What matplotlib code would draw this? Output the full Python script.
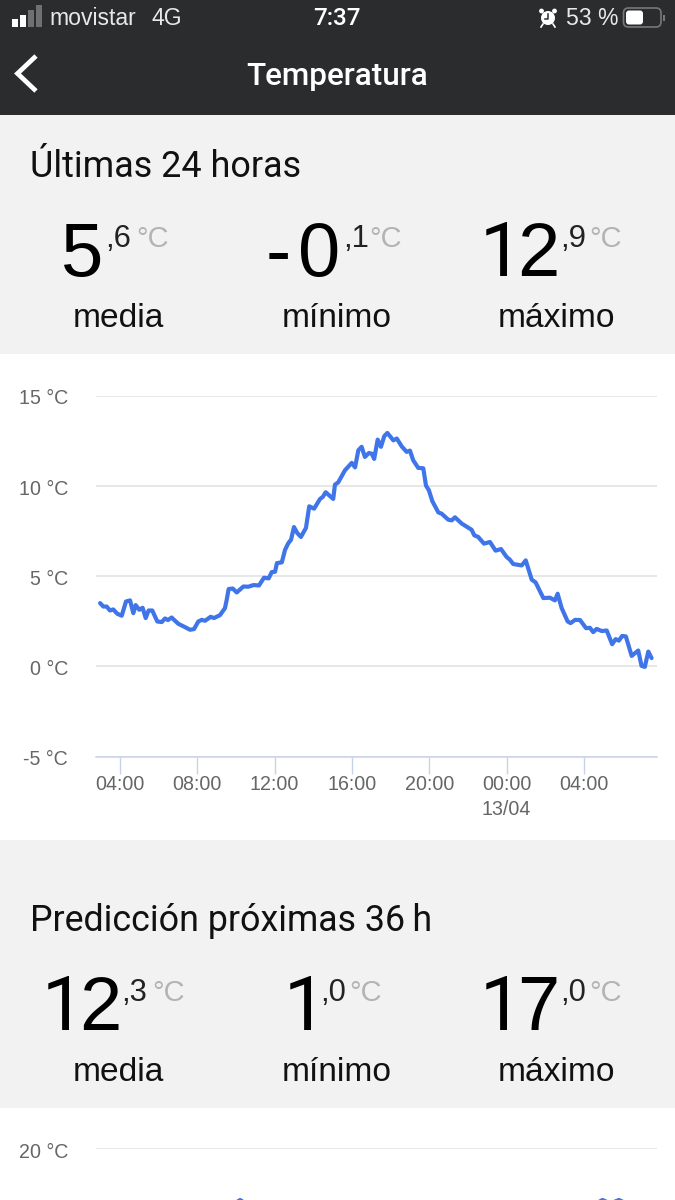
# Temperatura app screen: two stat panels and temperature line charts
import matplotlib
matplotlib.use('Agg')
import matplotlib.pyplot as plt
from matplotlib.patches import Rectangle, FancyBboxPatch, Circle
from matplotlib.transforms import ScaledTranslation

plt.rcParams['font.family'] = ['Liberation Sans', 'DejaVu Sans']

# last 24 hours, hours counted from 00:00 of the first day
hours_24 = [2.97, 3.14, 3.31, 3.48, 3.65, 3.86, 4.09, 4.21, 4.31, 4.52, 4.69, 4.81, 5.00, 5.17, 5.33,
            5.48, 5.67, 5.93, 6.16, 6.33, 6.48, 6.67, 7.02, 7.36, 7.62, 7.83, 8.05, 8.23, 8.40, 8.69,
            8.86, 9.17, 9.43, 9.52, 9.62, 9.83, 10.04, 10.38, 10.64, 10.90, 11.19, 11.45, 11.69, 11.85,
            12.02, 12.12, 12.37, 12.54, 12.71, 12.85, 13.00, 13.17, 13.36, 13.62, 13.79, 14.04, 14.35,
            14.49, 14.64, 15.03, 15.12, 15.29, 15.64, 15.99, 16.16, 16.33, 16.50, 16.67, 16.88, 17.02,
            17.15, 17.33, 17.50, 17.67, 17.83, 18.14, 18.32, 18.57, 18.83, 19.00, 19.17, 19.43, 19.69,
            19.83, 19.98, 20.16, 20.47, 20.64, 20.98, 21.16, 21.33, 21.68, 22.19, 22.33, 22.53, 22.83,
            23.14, 23.43, 23.71, 24.00, 24.17, 24.34, 24.78, 24.99, 25.30, 25.50, 25.90, 26.24, 26.50,
            26.64, 26.85, 27.16, 27.31, 27.54, 27.80, 28.11, 28.31, 28.48, 28.66, 28.92, 29.18, 29.46,
            29.64, 29.81, 29.98, 30.17, 30.47, 30.81, 30.98, 31.15, 31.33, 31.50]
temps_24 = [3.51, 3.32, 3.32, 3.10, 3.16, 2.92, 2.81, 3.23, 3.60, 3.66, 2.95, 3.40, 3.14, 3.25, 2.68,
            3.10, 3.10, 2.49, 2.46, 2.66, 2.57, 2.71, 2.36, 2.18, 2.03, 2.07, 2.49, 2.58, 2.53, 2.75,
            2.68, 2.84, 3.23, 3.69, 4.29, 4.32, 4.10, 4.43, 4.42, 4.51, 4.49, 4.92, 4.88, 5.23,
            5.25, 5.73, 5.77, 6.47, 6.84, 7.03, 7.73, 7.40, 7.18, 7.68, 8.88, 8.75, 9.29,
            9.40, 9.66, 9.29, 10.08, 10.21, 10.88, 11.29, 11.04, 11.99, 12.18, 11.62, 11.84, 11.80,
            11.51, 12.58, 12.18, 12.77, 12.95, 12.54, 12.64, 12.21, 11.90, 11.97, 11.43, 11.01, 10.99,
            10.03, 9.77, 9.16, 8.54, 8.47, 8.14, 8.10, 8.27, 7.92, 7.58, 7.27, 7.18, 6.81,
            6.90, 6.42, 6.51, 6.07, 5.92, 5.68, 5.60, 5.88, 4.81, 4.66, 3.79, 3.81, 3.66,
            4.03, 3.23, 2.49, 2.40, 2.58, 2.57, 2.12, 2.14, 1.90, 2.08, 1.96, 1.99, 1.23,
            1.51, 1.43, 1.69, 1.66, 0.58, 0.88, 0.03, -0.03, 0.82, 0.46]
ticks_24 = [4, 8, 12, 16, 20, 24, 28]
tick_labels_24 = ['04:00', '08:00', '12:00', '16:00', '20:00', '00:00\n13/04', '04:00']
yticks_24 = [-5, 0, 5, 10, 15]

# next 36 hours, only the top of the chart is on screen
hours_36_a = [8.6, 9.0, 9.25, 9.5, 9.9]
temps_36_a = [16.6, 16.85, 17.0, 16.85, 16.6]
hours_36_b = [31.8, 32.2, 32.5, 33.0, 33.56, 33.9, 34.3]
temps_36_b = [16.6, 16.85, 17.0, 16.8, 17.0, 16.85, 16.6]

stats_a = [('5', ',6', 'media'), ('-0', ',1', 'mínimo'), ('12', ',9', 'máximo')]
stats_b = [('12', ',3', 'media'), ('1', ',0', 'mínimo'), ('17', ',0', 'máximo')]

DARK = '#2b2c2e'
PANEL = '#f2f2f2'
GRID = '#e0e0e0'
BLUE = '#3f75e8'
LABEL = '#666666'
AXIS = '#c8d2e6'


def px(size):
    return size * 0.72


fig = plt.figure(figsize=(6.75, 12), dpi=100)
bg = fig.add_axes([0, 0, 1, 1])
bg.set_xlim(0, 675)
bg.set_ylim(1200, 0)
bg.axis('off')

# header and grey panels
bg.add_patch(Rectangle((0, 0), 675, 115, color=DARK, lw=0))
bg.add_patch(Rectangle((0, 115), 675, 239, color=PANEL, lw=0))
bg.add_patch(Rectangle((0, 840), 675, 268, color=PANEL, lw=0))

# status bar
for x, h, col in [(12, 8, 'white'), (20, 12, 'white'), (28, 17, '#6f7072'), (36, 22, '#6f7072')]:
    bg.add_patch(Rectangle((x, 27 - h), 5.5, h, color=col, lw=0))
bg.text(49, 18.5, 'movistar', color='#e8e8e8', fontsize=px(23), va='center', ha='left')
bg.text(152, 18.5, '4G', color='#e8e8e8', fontsize=px(23), va='center', ha='left')
bg.text(337, 18.5, '7:37', color='white', fontsize=px(24), va='center', ha='center', fontfamily='Roboto', fontweight='medium')

# alarm clock icon, no installed font has the glyph
bg.add_patch(Circle((548, 18), 7, color='white', lw=0))
bg.add_patch(Circle((541.5, 11), 2.4, color='white', lw=0))
bg.add_patch(Circle((554.5, 11), 2.4, color='white', lw=0))
bg.plot([548, 548, 544.5], [13.5, 19, 19], color=DARK, lw=1.1)
bg.plot([543, 541], [24, 27], color='white', lw=1.2)
bg.plot([553, 555], [24, 27], color='white', lw=1.2)

bg.text(566, 18.5, '53 %', color='#e8e8e8', fontsize=px(23), va='center', ha='left')
bg.add_patch(FancyBboxPatch((623.5, 8), 37.5, 19, boxstyle='round,pad=0,rounding_size=5', fc='none', ec='#77787a', lw=1.2))
bg.add_patch(FancyBboxPatch((626, 10.5), 17, 14, boxstyle='round,pad=0,rounding_size=3', fc='white', ec='none'))
bg.add_patch(Rectangle((663, 15), 1.5, 6, color='#77787a', lw=0))

# navigation bar
bg.plot([36, 17.5, 36], [56, 73.5, 91], color='white', lw=3.4, solid_capstyle='butt', solid_joinstyle='miter')
bg.text(337.5, 76.5, 'Temperatura', color='white', fontsize=px(31.5), va='center', ha='center', fontfamily='Roboto', fontweight='medium')

bg.text(30, 167, 'Últimas 24 horas', color='#111111', fontsize=px(36), va='center', ha='left', fontfamily='Roboto')
bg.text(30, 921, 'Predicción próximas 36\u2009h', color='#111111', fontsize=px(35.7), va='center', ha='left', fontfamily='Roboto')


def draw_stats(stats, places, base_y, label_y):
    for (whole, dec, name), (xs_big, x_dec, x_unit, x_label) in zip(stats, places):
        # digits are placed one by one, the reference sets them tight
        for ch, x in zip(whole, xs_big):
            # the Liberation 1 has a foot, the reference has none
            fam = 'Roboto' if ch == '1' else 'Liberation Sans'
            bg.text(x, base_y, ch, color='black', fontsize=px(76), ha='left', va='baseline', fontfamily=fam)
        bg.text(x_dec, base_y - 29, dec, color='#222222', fontsize=px(31), ha='left', va='baseline')
        bg.text(x_unit, base_y - 29, '°C', color='#b3b3b3', fontsize=px(29), ha='left', va='baseline')
        bg.text(x_label, label_y, name, color='#111111', fontsize=px(33.5), ha='center', va='baseline')


draw_stats(stats_a, [([61], 105, 136, 118), ([266, 298], 343, 369, 337), ([480, 517], 560, 589, 556)], 276, 327)
draw_stats(stats_b, [([42, 79], 121, 152, 118), ([284], 320, 349, 337), ([480, 517], 560, 589, 556)], 1030, 1081)

# upper chart
ax = fig.add_axes([96 / 675, 1 - 756.5 / 1200, (657 - 96) / 675, 360.5 / 1200])
ax.patch.set_alpha(0)
ax.set_xlim(4 + (96 - 120) / 19.33, 4 + (657 - 120) / 19.33)
ax.set_ylim(-5, 15)
ax.plot(hours_24, temps_24, color=BLUE, lw=3, solid_joinstyle='round', solid_capstyle='round', zorder=3, clip_on=False)
ax.set_yticks(yticks_24)
ax.set_yticklabels([f'{v} °C' for v in yticks_24])
ax.set_xticks(ticks_24)
ax.set_xticklabels(tick_labels_24, linespacing=1.36)
ax.grid(axis='y', color=GRID, lw=1.1)
ax.set_axisbelow(True)
ax.tick_params(axis='y', length=0, pad=28 * 0.72, labelsize=px(19.6), labelcolor=LABEL)
ax.tick_params(axis='x', length=12, width=1, color=AXIS, pad=1.5, labelsize=px(19.6), labelcolor=LABEL)
for s in ax.spines.values():
    s.set_visible(False)
ax.spines['bottom'].set_visible(True)
ax.spines['bottom'].set_color(AXIS)
ax.spines['bottom'].set_linewidth(1.1)
for lab in ax.get_yticklabels():
    lab.set_transform(lab.get_transform() + ScaledTranslation(0, -1 / 100, fig.dpi_scale_trans))

# lower chart, cut by the bottom of the screen
ax2 = fig.add_axes([96 / 675, 0, (657 - 96) / 675, 52 / 1200])
ax2.patch.set_alpha(0)
ax2.set_xlim(0, 36)
ax2.set_ylim(17, 20)
ax2.plot(hours_36_a, temps_36_a, color=BLUE, lw=3, zorder=3)
ax2.plot(hours_36_b, temps_36_b, color=BLUE, lw=3, zorder=3)
ax2.set_yticks([20])
ax2.set_yticklabels(['20 °C'], va='center')
ax2.set_xticks([])
ax2.grid(axis='y', color=GRID, lw=1.1)
ax2.tick_params(axis='y', length=0, pad=28 * 0.72, labelsize=px(19.6), labelcolor=LABEL)
for s in ax2.spines.values():
    s.set_visible(False)
for lab in ax2.get_yticklabels():
    lab.set_clip_on(False)
    lab.set_transform(lab.get_transform() + ScaledTranslation(0, -5 / 100, fig.dpi_scale_trans))

fig.savefig('out.png', dpi=100)
